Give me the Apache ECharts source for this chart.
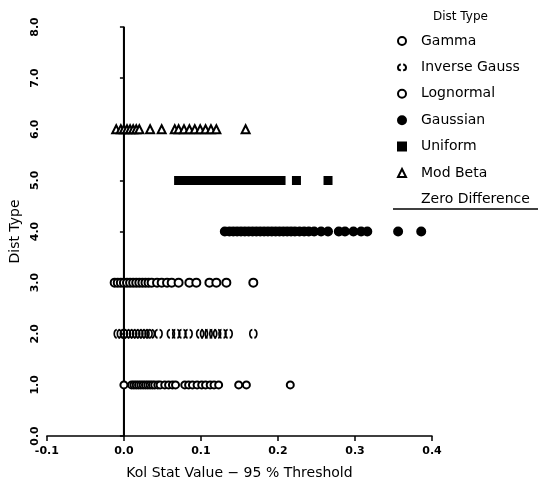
<!DOCTYPE html>
<html><head><meta charset="utf-8">
<script src="https://cdn.jsdelivr.net/npm/echarts@6/dist/echarts.min.js"></script>
<style>html,body{margin:0;padding:0;background:#fff}#c{width:538px;height:485px}</style>
</head><body><div id="c"></div>
<script>
const seriesNames = ['Gamma','Inverse Gauss','Lognormal','Gaussian','Uniform','Mod Beta'];
const seriesLevels = [1,2,3,4,5,6];
const gammaX = [0.000,0.010,0.013,0.016,0.019,0.022,0.025,0.028,0.031,0.034,0.037,0.040,0.044,0.047,0.053,0.058,0.063,0.067,0.079,0.084,0.089,0.095,0.101,0.106,0.112,0.117,0.123,0.149,0.159,0.216];
const invGaussX = [-0.008,-0.004,0.000,0.004,0.008,0.012,0.016,0.020,0.024,0.028,0.032,0.035,0.045,0.061,0.068,0.076,0.084,0.099,0.104,0.110,0.116,0.121,0.128,0.136,0.168];
const lognormX = [-0.012,-0.008,-0.004,0.000,0.004,0.008,0.012,0.016,0.020,0.024,0.028,0.032,0.036,0.043,0.049,0.056,0.062,0.071,0.085,0.094,0.111,0.120,0.133,0.168];
const gaussianX = [0.131,0.137,0.142,0.147,0.152,0.157,0.162,0.167,0.172,0.177,0.182,0.187,0.192,0.197,0.202,0.207,0.212,0.217,0.222,0.228,0.234,0.240,0.247,0.256,0.265,0.279,0.287,0.298,0.308,0.316,0.356,0.386];
const uniformX = [0.071,0.080,0.089,0.094,0.099,0.104,0.109,0.114,0.119,0.124,0.129,0.134,0.139,0.144,0.149,0.155,0.160,0.166,0.172,0.178,0.184,0.190,0.196,0.204,0.224,0.265];
const modBetaX = [-0.010,-0.004,0.000,0.004,0.008,0.012,0.016,0.020,0.034,0.049,0.066,0.071,0.078,0.085,0.092,0.099,0.106,0.113,0.120,0.158];
const zeroLineX = [0, 0];
const zeroLineY = [0, 8];
const xTicks = [-0.1, 0.0, 0.1, 0.2, 0.3, 0.4];
const yTicks = [0,1,2,3,4,5,6,7,8];

const allX = [gammaX, invGaussX, lognormX, gaussianX, uniformX, modBetaX];
const parenPath = 'path://M3,0 A5,5 0 0 0 3,10 M7,0 A5,5 0 0 1 7,10';
const symbols = ['emptyCircle', parenPath, 'emptyCircle', 'circle', 'rect', 'emptyTriangle'];
const sizes = [7, [7,8], 8, 8, 7, 8];
const FONT = 'DejaVu Sans';

const series = seriesNames.map((n, i) => ({
  name: n, type: 'scatter',
  data: allX[i].map(x => [x, seriesLevels[i]]),
  symbol: symbols[i], symbolSize: sizes[i],
  itemStyle: i === 1 ? {color: 'transparent', borderColor: '#000', borderWidth: 1.8, opacity: 1}
                     : {color: '#000', borderColor: '#000', borderWidth: 2, opacity: 1},
  z: 3
}));
series.push({
  name: 'Zero Difference', type: 'line',
  data: zeroLineX.map((x, i) => [x, zeroLineY[i]]),
  symbol: 'none', lineStyle: {color: '#000', width: 2}, z: 2
});

const chart = echarts.init(document.getElementById('c'), null, {renderer: 'canvas'});
chart.setOption({
  animation: false,
  textStyle: {fontFamily: FONT, color: '#000'},
  title: {text: 'Dist Type', left: 428, top: 6,
    textStyle: {fontFamily: FONT, fontSize: 12, fontWeight: 'normal', color: '#000'}},
  legend: {
    orient: 'vertical', left: 392, top: 29, itemGap: 12.4, itemWidth: 8, itemHeight: 8,
    textStyle: {fontFamily: FONT, fontSize: 14, color: '#000', padding: [0, 0, 0, 10]},
    data: seriesNames.map(n => ({name: n})).concat([{name: 'Zero Difference', icon: 'none'}])
  },
  graphic: [{type: 'line', shape: {x1: 393, y1: 209, x2: 538, y2: 209}, style: {stroke: '#000', lineWidth: 1.5}}],
  grid: {left: 46, right: 106, top: 27, bottom: 46},
  xAxis: {
    type: 'value', min: -0.1, max: 0.4, interval: 0.1,
    name: 'Kol Stat Value \u2212 95 % Threshold', nameLocation: 'middle', nameGap: 30,
    nameTextStyle: {fontFamily: FONT, fontSize: 14, color: '#000'},
    axisLine: {lineStyle: {color: '#000', width: 1.5}},
    axisTick: {lineStyle: {color: '#000', width: 1.5}, length: 5},
    axisLabel: {color: '#000', fontSize: 11, fontWeight: 'bold', fontFamily: FONT, margin: 10,
      formatter: v => xTicks.includes(Math.round(v*10)/10) ? (Math.round(v*10)/10).toFixed(1) : ''},
    splitLine: {show: false}
  },
  yAxis: {
    type: 'value', min: 0, max: 8, interval: 1,
    name: 'Dist Type', nameLocation: 'middle', nameGap: 22, nameRotate: 90,
    nameTextStyle: {fontFamily: FONT, fontSize: 14, color: '#000'},
    axisLine: {lineStyle: {color: '#000', width: 1.5}},
    axisTick: {lineStyle: {color: '#000', width: 1.5}, length: 4},
    axisLabel: {color: '#000', fontSize: 11, fontWeight: 'bold', fontFamily: FONT, rotate: 90, margin: 6,
      formatter: v => yTicks.includes(v) ? v.toFixed(1) : ''},
    splitLine: {show: false}
  },
  series: series
});
</script></body></html>
